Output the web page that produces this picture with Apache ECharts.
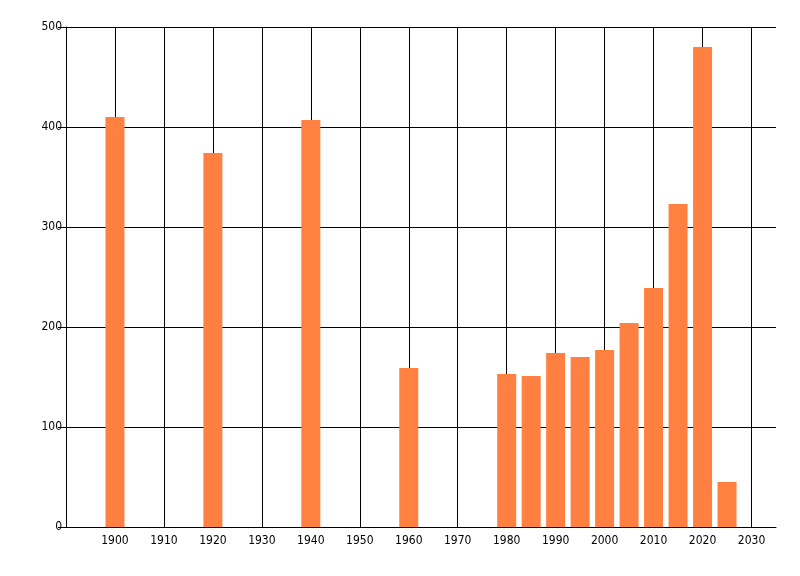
<!DOCTYPE html>
<html>
<head>
<meta charset="utf-8">
<script src="https://cdn.jsdelivr.net/npm/echarts@6/dist/echarts.min.js"></script>
<style>
html,body{margin:0;padding:0;background:#fff;}
#chart{width:800px;height:576px;}
</style>
</head>
<body>
<div id="chart"></div>
<script>
var years = [1900, 1920, 1940, 1960, 1980, 1985, 1990, 1995, 2000, 2005, 2010, 2015, 2020, 2025];
var values = [410, 374, 407, 159, 153, 151, 174, 170, 177, 204, 239, 323, 480, 45];

var barData = [];
for (var i = 0; i < years.length; i++) {
    barData.push([years[i], values[i]]);
}

var myChart = echarts.init(document.getElementById('chart'));
var option = {
    animation: false,
    grid: {
        left: 66,
        right: 24,
        top: 27,
        bottom: 49
    },
    xAxis: {
        type: 'value',
        min: 1890,
        max: 2035,
        interval: 10,
        axisLine: {show: true, lineStyle: {color: '#000', width: 1}},
        axisTick: {show: false},
        axisLabel: {
            color: '#000',
            fontSize: 12,
            fontFamily: 'DejaVu Sans Condensed, Liberation Sans, sans-serif',
            margin: 8,
            showMinLabel: false,
            showMaxLabel: false,
            formatter: function (v) { return String(v); }
        },
        splitLine: {show: true, showMaxLine: false, lineStyle: {color: '#000', width: 1}}
    },
    yAxis: {
        type: 'value',
        min: 0,
        max: 500,
        interval: 100,
        axisLine: {show: true, lineStyle: {color: '#000', width: 1}},
        axisTick: {show: true, length: 8, lineStyle: {color: '#000'}},
        axisLabel: {
            color: '#000',
            fontSize: 12,
            fontFamily: 'DejaVu Sans Condensed, Liberation Sans, sans-serif',
            margin: 4
        },
        splitLine: {show: true, lineStyle: {color: '#000', width: 1}}
    },
    series: [
        {
            type: 'bar',
            data: barData,
            barWidth: 19,
            itemStyle: {color: 'rgb(255,128,64)'}
        }
    ]
};
myChart.setOption(option);
</script>
</body>
</html>
